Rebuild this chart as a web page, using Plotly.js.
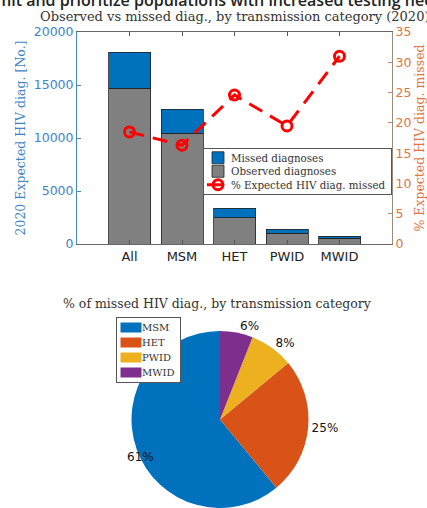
<!DOCTYPE html>
<html>
<head>
<meta charset="utf-8">
<script src="https://cdn.plot.ly/plotly-3.0.1.min.js"></script>
<style>
  html, body { margin: 0; padding: 0; background: #fff; overflow: hidden; }
  #chart { width: 427px; height: 508px; }
</style>
</head>
<body>
<div id="chart"></div>
<script>
// Expected HIV diagnoses (2020) by transmission category
const categories   = ['All', 'MSM', 'HET', 'PWID', 'MWID'];
const observedDiag = [14700, 10450, 2500, 1000, 520];
const missedDiag   = [3400, 2250, 870, 410, 230];
const pctMissed    = [18.5, 16.3, 24.6, 19.5, 31.0];

// Share of missed diagnoses by category (pie)
const pieLabels = ['MSM', 'HET', 'PWID', 'MWID'];
const pieShares = [61, 25, 8, 6];

const leftTicks  = [0, 5000, 10000, 15000, 20000];
const rightTicks = [0, 5, 10, 15, 20, 25, 30, 35];

const W = 427, H = 508;
const px = x => x / W;          // pixel -> paper x
const py = y => 1 - y / H;      // pixel -> paper y

const BLUE = '#0072BD', ORANGE = '#D95319', YELLOW = '#EDB120', PURPLE = '#7E2F8E';
const SERIF = 'DejaVu Serif, serif';
const SANS = 'DejaVu Sans, sans-serif';

const pieTotal = pieShares.reduce((a, b) => a + b, 0);
// first slice starts at 12 o'clock and runs counter-clockwise
const pieRotation = -360 * pieShares[0] / pieTotal;

const traces = [
  {
    type: 'bar', name: 'Observed diagnoses', x: categories, y: observedDiag,
    marker: { color: '#808080', line: { color: '#222', width: 0.8 } },
    width: 0.8, legend: 'legend', legendrank: 2, hoverinfo: 'y'
  },
  {
    type: 'bar', name: 'Missed diagnoses', x: categories, y: missedDiag,
    marker: { color: BLUE, line: { color: '#222', width: 0.8 } },
    width: 0.8, legend: 'legend', legendrank: 1, hoverinfo: 'y'
  },
  {
    type: 'scatter', mode: 'lines+markers', name: '% Expected HIV diag. missed',
    x: categories, y: pctMissed, yaxis: 'y2',
    line: { color: '#FF0000', width: 3, dash: '15px,9px' },
    marker: { symbol: 'circle-open', size: 10, color: '#FF0000', line: { width: 3, color: '#FF0000' } },
    legend: 'legend', legendrank: 3
  },
  {
    type: 'pie', labels: pieLabels, values: pieShares, sort: false,
    direction: 'counterclockwise', rotation: pieRotation,
    marker: { colors: [BLUE, ORANGE, YELLOW, PURPLE], line: { width: 0 } },
    texttemplate: ['', '%{percent:.0%}', '%{percent:.0%}', '%{percent:.0%}'],
    textposition: 'outside',
    textfont: { family: SANS, size: 12, color: '#111' },
    domain: { x: [px(131), px(309)], y: [0, py(331)] },
    legend: 'legend2', hoverinfo: 'label+percent'
  }
];

// "61%" label sits just inside the rim of the large MSM slice
const midAng = (pieShares[0] / 2) / pieTotal * 2 * Math.PI;   // ccw from 12 o'clock
const cx = 220, cy = 420, rLab = 84;
const mainLabel = {
  text: Math.round(100 * pieShares[0] / pieTotal) + '%',
  x: px(cx - Math.sin(midAng) * rLab), y: py(cy - Math.cos(midAng) * rLab),
  xanchor: 'center', yanchor: 'top',
  xref: 'paper', yref: 'paper', showarrow: false,
  font: { family: SANS, size: 12, color: '#111' }
};

const layout = {
  width: W, height: H,
  margin: { l: 0, r: 0, t: 0, b: 0 },
  paper_bgcolor: '#fff', plot_bgcolor: '#fff',
  font: { family: SERIF, color: '#333' },
  barmode: 'stack',
  showlegend: true,
  title: {
    text: 'Observed vs missed diag., by transmission category (2020)',
    x: px(40), xanchor: 'left', y: py(16), yanchor: 'middle',
    font: { family: SERIF, size: 13, color: '#333' }
  },
  xaxis: {
    domain: [px(77), px(392)], anchor: 'y',
    type: 'category', range: [-1, 5],
    showline: true, linecolor: '#666', linewidth: 1, mirror: 'ticks',
    ticks: 'inside', ticklen: 4, tickcolor: '#555',
    tickfont: { family: SANS, size: 13, color: '#222' },
    showgrid: false, zeroline: false
  },
  yaxis: {
    domain: [py(244), py(32)], anchor: 'x',
    range: [0, 20000], tickvals: leftTicks, tickformat: 'd',
    showline: true, linecolor: '#4a86bf', linewidth: 1,
    ticks: 'inside', ticklen: 4, tickcolor: '#4a86bf',
    tickfont: { family: SANS, size: 12.5, color: '#3d85c6' },
    showgrid: false, zeroline: false,
    title: { text: '2020 Expected HIV diag. [No.]', standoff: 5,
             font: { family: SERIF, size: 12.5, color: '#3d85c6' } }
  },
  yaxis2: {
    overlaying: 'y', side: 'right', anchor: 'x',
    range: [0, 35], tickvals: rightTicks,
    showline: true, linecolor: '#9a8b80', linewidth: 1,
    ticks: 'inside', ticklen: 4, tickcolor: '#b08a70',
    tickfont: { family: SANS, size: 12.5, color: '#e0753f' },
    showgrid: false, zeroline: false,
    title: { text: '% Expected HIV diag. missed', standoff: 9,
             font: { family: SERIF, size: 12.5, color: '#e0753f' } }
  },
  legend: {
    x: px(203), y: py(148), xanchor: 'left', yanchor: 'top',
    bgcolor: '#fff', bordercolor: '#555', borderwidth: 1,
    traceorder: 'normal', tracegroupgap: 0, itemwidth: 30,
    font: { family: SERIF, size: 10.3, color: '#333' }
  },
  legend2: {
    x: px(116), y: py(317), xanchor: 'left', yanchor: 'top',
    bgcolor: '#fff', bordercolor: '#555', borderwidth: 1,
    traceorder: 'normal', itemwidth: 30,
    font: { family: SERIF, size: 10, color: '#333' }
  },
  annotations: [
    {
      text: 'limit and prioritize populations with increased testing needs',
      x: px(-15), xanchor: 'left', y: py(0), yanchor: 'middle',
      xref: 'paper', yref: 'paper', showarrow: false,
      font: { family: 'Open Sans, sans-serif', size: 16, color: '#222', weight: 600 }
    },
    {
      text: '% of missed HIV diag., by transmission category',
      x: px(217), y: py(303), xanchor: 'center', yanchor: 'middle',
      xref: 'paper', yref: 'paper', showarrow: false,
      font: { family: SERIF, size: 12.5, color: '#333' }
    },
    mainLabel
  ]
};

// Compact legend layout: fixed row pitch, tighter padding,
// wide flat swatches and text closer to the swatch
function compactLegend(gd, id, opt) {
  const g = gd.querySelector('g.' + id);
  if (!g || g.dataset.compact) return;
  g.dataset.compact = '1';
  const items = g.querySelectorAll('g.traces');
  if (!items.length) return;
  const pos = el => {
    const m = /translate\(\s*([-\d.]+)[ ,]+([-\d.]+)/.exec(el.getAttribute('transform') || '');
    return m ? [+m[1], +m[2]] : [0, 0];
  };
  const y0 = pos(items[0])[1];
  const oldRow = items.length > 1 ? pos(items[1])[1] - y0 : opt.rowH;
  const y0n = y0 - (oldRow - opt.rowH) / 2 - opt.pad;
  items.forEach((el, i) => {
    const p = pos(el);
    // move the whole entry left (text included), then push the swatch back
    el.setAttribute('transform',
      'translate(' + (p[0] - opt.shiftText) + ',' + (y0n + i * opt.rowH) + ')');
    el.querySelectorAll(':scope > g').forEach(s =>
      s.setAttribute('transform', 'translate(' + (opt.shiftText - opt.shiftSym) + ',0)'));
    el.querySelectorAll('path.legendbar, path.legendpie').forEach(p2 =>
      p2.setAttribute('d', 'M10.5,5H-10.5V-5H10.5Z'));
    el.querySelectorAll('g.legendlines path').forEach(p2 => p2.setAttribute('d', 'M9,0h22'));
  });
  const bg = g.querySelector('rect.bg');
  if (bg) {
    bg.setAttribute('height', +bg.getAttribute('height') - items.length * (oldRow - opt.rowH) - 2 * opt.pad);
    bg.setAttribute('width', +bg.getAttribute('width') - opt.shiftText);
  }
}

function tidyLegends(gd) {
  compactLegend(gd, 'legend',  { rowH: 13.5, pad: 3, shiftSym: 6, shiftText: 13 });
  compactLegend(gd, 'legend2', { rowH: 15,   pad: 3, shiftSym: 6, shiftText: 15 });
}

Plotly.newPlot('chart', traces, layout, { displayModeBar: false, staticPlot: true })
  .then(gd => {
    tidyLegends(gd);
    gd.on('plotly_afterplot', () => tidyLegends(gd));
  });
</script>
</body>
</html>
